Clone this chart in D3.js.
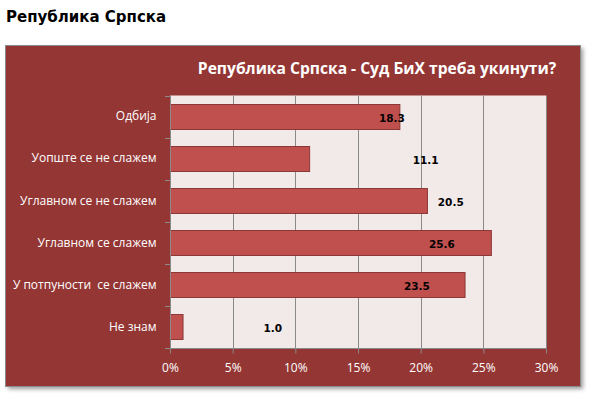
<!DOCTYPE html>
<html>
<head>
<meta charset="utf-8">
<script src="https://cdn.jsdelivr.net/npm/d3@7"></script>
<style>
  body { margin: 0; background: #fff; }
  text { white-space: pre; }
</style>
</head>
<body>
<div id="container"></div>
<script>
const categories = ['Одбија', 'Уопште се не слажем', 'Углавном се не слажем', 'Углавном се слажем', 'У потпуности  се слажем', 'Не знам'];
const values = [18.3, 11.1, 20.5, 25.6, 23.5, 1.0];
const labelAt = [17.7, 20.4, 22.4, 21.7, 19.7, 8.2]; // where the data labels sit, in %
const xTicks = [0, 5, 10, 15, 20, 25, 30];

const W = 610, H = 394;
const svg = d3.select('#container')
    .append('svg')
    .attr('width', W)
    .attr('height', H);

const defs = svg.append('defs');
const blur = defs.append('filter').attr('id', 'shadow').attr('x', '-5%').attr('y', '-5%').attr('width', '115%').attr('height', '115%');
blur.append('feGaussianBlur').attr('stdDeviation', 2);

// page heading
svg.append('text')
    .attr('x', 6)
    .attr('y', 22)
    .attr('font-family', 'DejaVu Sans')
    .attr('font-weight', 'bold')
    .attr('font-size', 15)
    .attr('fill', '#000')
    .text('Република Српска');

// chart box with shadow
svg.append('rect')
    .attr('x', 8).attr('y', 48)
    .attr('width', 575).attr('height', 341)
    .attr('fill', '#9a9a9a')
    .attr('filter', 'url(#shadow)');
svg.append('rect')
    .attr('x', 5.5).attr('y', 45.5)
    .attr('width', 575).attr('height', 341)
    .attr('fill', '#943634')
    .attr('stroke', '#8c8c8c')
    .attr('stroke-width', 1);

svg.append('text')
    .attr('x', 377)
    .attr('y', 74)
    .attr('text-anchor', 'middle')
    .attr('font-family', 'Open Sans')
    .attr('font-weight', 'bold')
    .attr('font-size', 15.6)
    .attr('fill', '#fff')
    .text('Република Српска - Суд БиХ треба укинути?');

const m = { left: 170, right: 546, top: 95.5, bottom: 348 };

const x = d3.scaleLinear().domain([0, 30]).range([m.left, m.right]);
const y = d3.scaleBand().domain(categories).range([m.top, m.bottom]).paddingInner(0.4).paddingOuter(0.2);

const g = svg.append('g');

g.append('rect')
    .attr('x', m.left).attr('y', m.top)
    .attr('width', m.right - m.left).attr('height', m.bottom - m.top)
    .attr('fill', '#f2e9e9');

// vertical gridlines
g.append('g')
    .selectAll('line')
    .data(xTicks.slice(1))
    .enter()
    .append('line')
    .attr('x1', d => Math.round(x(d)) + 0.5)
    .attr('x2', d => Math.round(x(d)) + 0.5)
    .attr('y1', m.top)
    .attr('y2', m.bottom)
    .attr('stroke', '#8a8a8a')
    .attr('stroke-width', 1);

// bars
g.append('g')
    .selectAll('rect')
    .data(values)
    .enter()
    .append('rect')
    .attr('x', x(0) + 0.5)
    .attr('y', (d, i) => Math.round(y(categories[i])) + 0.5)
    .attr('width', d => x(d) - x(0))
    .attr('height', Math.round(y.bandwidth()))
    .attr('fill', '#c0504d')
    .attr('stroke', '#8c3836')
    .attr('stroke-width', 1);

// data labels
g.append('g')
    .selectAll('text')
    .data(values)
    .enter()
    .append('text')
    .attr('x', (d, i) => x(labelAt[i]))
    .attr('y', (d, i) => y(categories[i]) + y.bandwidth() / 2 + 5)
    .attr('text-anchor', 'middle')
    .attr('font-family', 'DejaVu Sans')
    .attr('font-weight', 'bold')
    .attr('font-size', 10.5)
    .attr('fill', '#000')
    .text(d => d.toFixed(1));

// x axis
const xAxis = g.append('g')
    .attr('transform', `translate(0,${Math.round(m.bottom) + 0.5})`)
    .call(d3.axisBottom(x).tickValues(xTicks).tickFormat(d => d + '%').tickSize(5).tickPadding(10));
xAxis.select('.domain').attr('stroke', '#8a8a8a').attr('d', `M${m.left},0H${m.right}`);
xAxis.selectAll('.tick line').attr('stroke', '#8a8a8a');
xAxis.selectAll('.tick text')
    .attr('fill', '#fff')
    .attr('font-family', 'Open Sans')
    .attr('font-size', 12);

// y axis
const yAxis = g.append('g')
    .attr('transform', `translate(${m.left + 0.5},0)`)
    .call(d3.axisLeft(y).tickSize(0).tickPadding(14));
yAxis.select('.domain').attr('stroke', '#8a8a8a').attr('d', `M0,${m.top}V${m.bottom}`);
yAxis.selectAll('.tick text')
    .attr('fill', '#fff')
    .attr('font-family', 'Open Sans')
    .attr('font-size', 12);

// category boundary ticks
g.append('g')
    .selectAll('line')
    .data(d3.range(categories.length + 1))
    .enter()
    .append('line')
    .attr('x1', m.left - 5)
    .attr('x2', m.left)
    .attr('y1', i => Math.round(m.top + i * (m.bottom - m.top) / categories.length) + 0.5)
    .attr('y2', i => Math.round(m.top + i * (m.bottom - m.top) / categories.length) + 0.5)
    .attr('stroke', '#8a8a8a');
</script>
</body>
</html>
